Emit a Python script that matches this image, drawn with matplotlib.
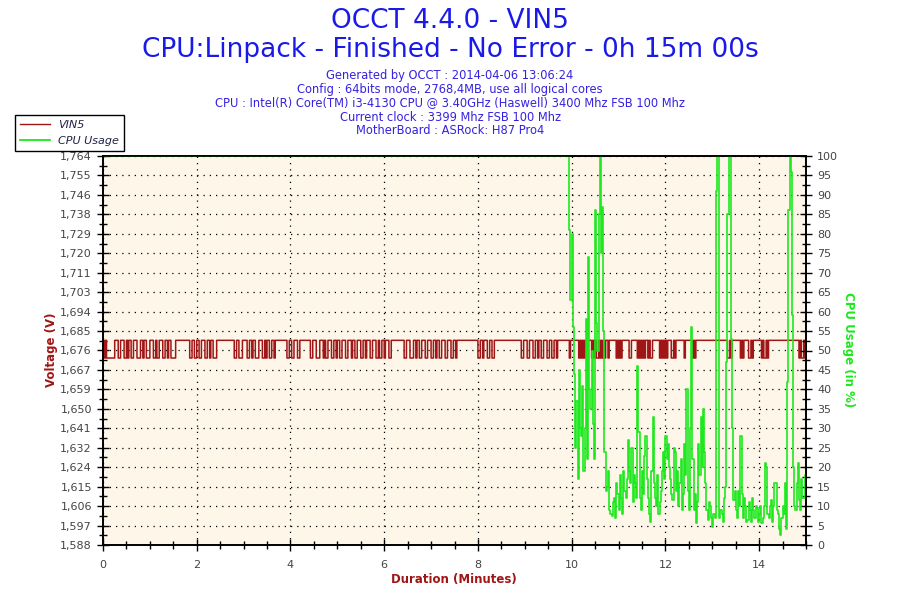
import numpy as np
import matplotlib
matplotlib.use("Agg")
import matplotlib.pyplot as plt
from matplotlib.lines import Line2D
from matplotlib.ticker import AutoMinorLocator, MultipleLocator

# --- data ---
volt_step = 0.025          # minutes per sample
volt_high = 1.6806
volt_low = 1.6726
# 1 = high level, 0 = low level, one char per sample, one line per minute
volt_bits = (
    "1010000000" "1110011100" "1011001110" "0011011000"
    "1110010011" "1001101100" "0011111111" "1111001100"
    "1100111001" "1011000111" "1111111111" "1100110001"
    "1110011011" "0001110010" "1100110111" "1111111001"
    "1001110011" "1111111001" "1100011101" "0011100110"
    "1100111001" "1101100111" "0011011100" "1110010011"
    "0111001111" "1111111001" "1100011011" "0011100111"
    "0011011001" "1100111001" "1011111111" "1111111111"
    "0011011100" "1100111111" "1111111111" "1111111001"
    "1100111001" "1011001110" "0110011011" "1111111101"
    "1111110101" "0100111010" "1001010101" "1011111101"
    "0101111110" "0111110101" "0101101001" "1111101010"
    "1011100101" "1111110111" "1110101111" "1111111111"
    "1111111111" "1110010111" "1111010111" "1001011111"
    "1101001011" "1111111111" "1111111111" "1111010010"
    "1"
)

cpu_full_until = 9.90      # CPU at 100 % from start until here
cpu_step = 0.025
cpu_tail = [
    100, 100, 81, 63, 80, 56, 44, 25,
    37, 17, 45, 30, 28, 41, 19, 30,
    58, 22, 74, 40, 35, 50, 31, 22,
    86, 57, 50, 85, 100, 75, 87, 55,
    24, 14, 15, 19, 9, 8, 7.5, 11,
    12, 7, 16, 13, 9, 18, 12, 8,
    19, 14, 12, 17, 27, 19, 16, 25,
    11, 18, 16, 12, 46, 29, 12, 9,
    19, 13, 23, 28, 17, 12, 8, 6,
    19, 33, 16, 12, 10, 18, 8, 11,
    14, 19, 24, 17, 28, 22, 26, 20,
    17, 13, 11.5, 25, 24, 14, 19, 10,
    16, 22, 9, 13, 26, 18, 40, 14,
    9, 30, 56, 22, 9, 13, 5.6, 11,
    26, 18, 33, 20, 35, 24, 16, 9,
    6.4, 11, 10, 7, 4.6, 8, 7, 91,
    100, 100, 7, 9, 8, 6, 12, 15,
    47, 85, 100, 100, 53, 30, 11.5, 14,
    9, 7, 14, 10, 28, 13, 7, 12,
    10, 6, 6.4, 11, 9, 6, 12, 9,
    7, 10, 9.5, 6, 8, 10, 5.6, 7,
    10, 21, 20, 8, 7, 10, 11.5, 6,
    10, 16, 16, 9, 8, 4, 2.5, 7,
    10, 8, 16, 4, 42, 86, 100, 96,
    59, 20, 10, 9, 16, 21, 11.5, 9,
    17, 12, 12, 18, 12,
]

v_ticks = ["1,588", "1,597", "1,606", "1,615", "1,624", "1,632", "1,641",
           "1,650", "1,659", "1,667", "1,676", "1,685", "1,694", "1,703",
           "1,711", "1,720", "1,729", "1,738", "1,746", "1,755", "1,764"]
v_min, v_max = 1.588, 1.764

info_lines = [
    "Generated by OCCT : 2014-04-06 13:06:24",
    "Config : 64bits mode, 2768,4MB, use all logical cores",
    "CPU : Intel(R) Core(TM) i3-4130 CPU @ 3.40GHz (Haswell) 3400 Mhz FSB 100 Mhz",
    "Current clock : 3399 Mhz FSB 100 Mhz",
    "MotherBoard : ASRock: H87 Pro4",
]

RED = "#a01616"
GREEN = "#1ee81e"
BLUE = "#1a1ae8"

bits = np.array([int(c) for c in volt_bits])
volt = np.where(bits == 1, volt_high, volt_low)
volt_t = np.arange(len(volt)) * volt_step

cpu_t = np.concatenate([[0.0], cpu_full_until + np.arange(len(cpu_tail)) * cpu_step])
cpu = np.concatenate([[100.0], cpu_tail])

fig = plt.figure(figsize=(9, 6), dpi=100)
ax = fig.add_axes([103 / 900, 1 - 545 / 600, 703 / 900, 389 / 600])
ax2 = ax.twinx()

ax.set_facecolor("#fdf6e9")
ax.step(volt_t, volt, where="post", color=RED, lw=1.1)
ax2.step(cpu_t, cpu, where="post", color=GREEN, lw=1.2)

ax.set_xlim(0, 15)
ax.set_ylim(v_min, v_max)
ax2.set_ylim(0, 100)

ax.set_xticks(np.arange(0, 15, 2))
ax.xaxis.set_minor_locator(MultipleLocator(0.5))
ax.set_yticks(np.linspace(v_min, v_max, len(v_ticks)))
ax.set_yticklabels(v_ticks)
ax.yaxis.set_minor_locator(AutoMinorLocator(2))
ax2.set_yticks(np.arange(0, 101, 5))
ax2.yaxis.set_minor_locator(MultipleLocator(2.5))

for a in (ax, ax2):
    a.tick_params(which="major", direction="inout", length=9, width=1,
                  color="black", labelcolor="#444444", labelsize=8)
    a.tick_params(which="minor", direction="inout", length=6, width=1, color="black")
    for s in a.spines.values():
        s.set_color("black")
        s.set_linewidth(1.2)

ax.grid(True, which="major", linestyle=(0, (1, 4)), color="black", lw=0.9)
ax.tick_params(axis="x", pad=6)

# titles
fig.text(0.5, 1 - 21 / 600, "OCCT 4.4.0 - VIN5", ha="center", va="center",
         fontsize=19, color=BLUE)
fig.text(0.5, 1 - 50 / 600, "CPU:Linpack - Finished - No Error - 0h 15m 00s",
         ha="center", va="center", fontsize=19, color=BLUE)
for i, line in enumerate(info_lines):
    fig.text(0.5, 1 - (75 + i * 14) / 600, line, ha="center", va="center",
             fontsize=8.3, color="#3522e0")

fig.text(52 / 900, 1 - 350 / 600, "Voltage (V)", rotation=90, ha="center",
         va="center", fontsize=8.5, fontweight="bold", color=RED)
fig.text(848 / 900, 1 - 350 / 600, "CPU Usage (in %)", rotation=270, ha="center",
         va="center", fontsize=8.5, fontweight="bold", color=GREEN)
fig.text(454 / 900, 1 - 580 / 600, "Duration (Minutes)", ha="center",
         va="center", fontsize=8.5, fontweight="bold", color=RED)

handles = [Line2D([], [], color=RED, lw=1), Line2D([], [], color=GREEN, lw=1.3)]
leg = fig.legend(handles, ["VIN5", "CPU Usage"], loc="upper left",
                 bbox_to_anchor=(15 / 900, 1 - 115 / 600), frameon=True,
                 fancybox=False, edgecolor="black", framealpha=1,
                 prop={"size": 8, "style": "italic"}, handlelength=2.7,
                 handletextpad=0.7, borderpad=0.45, labelspacing=0.5,
                 borderaxespad=0)
leg.get_frame().set_linewidth(1)
for t in leg.get_texts():
    t.set_color("#222244")

fig.savefig("out.png", dpi=100)
